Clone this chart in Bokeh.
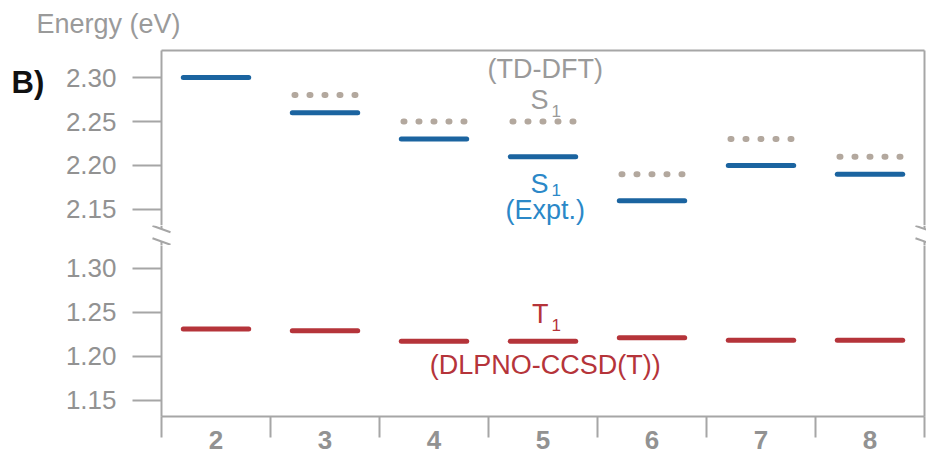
from bokeh.plotting import figure
from bokeh.layouts import column
from bokeh.models import (FixedTicker, LinearAxis, Range1d, Label, Plot,
                          ColumnDataSource, NumeralTickFormatter)
from bokeh.embed import file_html
from bokeh.resources import INLINE

# ---------------- data ----------------
compounds = [2, 3, 4, 5, 6, 7, 8]
x_labels = ["2", "3", "4", "5", "6", "7", "8"]
s1_expt = [2.30, 2.26, 2.23, 2.21, 2.16, 2.20, 2.19]
s1_tddft_compounds = [3, 4, 5, 6, 7, 8]
s1_tddft = [2.28, 2.25, 2.25, 2.19, 2.23, 2.21]
t1_dlpno = [1.231, 1.229, 1.217, 1.217, 1.221, 1.218, 1.218]
top_ticks = [2.15, 2.20, 2.25, 2.30]
bottom_ticks = [1.15, 1.20, 1.25, 1.30]

# ---------------- style ----------------
FONT = "Liberation Sans"
AXIS_COL = "#a6a6a6"
TICK_TXT = "#929292"
BLUE = "#1b64a0"
BLUE_TXT = "#2b88c8"
TAUPE = "#b3a89e"
RED = "#b5343a"
GRAY_TXT = "#9a9a9a"
ANN_SIZE = "27px"
SUB_SIZE = "17px"
HALF_BAR = 0.30
HALF_DOT = 0.28

W = 926
FRAME_L = 161
FRAME_R = 924

x_range = Range1d(compounds[0] - 0.5, compounds[-1] + 0.5)
PX_PER_X = (FRAME_R - FRAME_L) / (x_range.end - x_range.start)
top_range = Range1d(2.1318, 2.3307)
bot_range = Range1d(1.1315, 1.3258)


def bars(p, xs, ys, color, width, half, dash="solid"):
    src = ColumnDataSource(dict(x0=[x - half for x in xs], x1=[x + half for x in xs], y=ys))
    p.segment(x0="x0", y0="y", x1="x1", y1="y", source=src, line_color=color,
              line_width=width, line_cap="round", line_dash=dash)


def blank_axis():
    return LinearAxis(ticker=FixedTicker(ticks=[]), major_tick_out=0, major_tick_in=0,
                      minor_tick_out=0, minor_tick_in=0, major_label_standoff=0,
                      axis_line_color=AXIS_COL, axis_line_width=2,
                      major_label_text_font_size="0px")


def left_axis(ticks):
    return LinearAxis(ticker=FixedTicker(ticks=ticks, minor_ticks=[]),
                      formatter=NumeralTickFormatter(format="0.00"),
                      major_tick_out=29, major_tick_in=0,
                      minor_tick_out=0, minor_tick_in=0,
                      major_tick_line_color=AXIS_COL, major_tick_line_width=2,
                      axis_line_color=AXIS_COL, axis_line_width=2,
                      major_label_standoff=16,
                      major_label_text_font=FONT, major_label_text_font_size="26px",
                      major_label_text_color=TICK_TXT)


def text(p, x, y, s, color, size=ANN_SIZE, align="center", baseline="middle"):
    p.add_layout(Label(x=x, y=y, text=s, text_font=FONT, text_font_size=size,
                       text_color=color, text_align=align, text_baseline=baseline))


def sub_text(p, x, y_main, y_sub, main, sub, color):
    text(p, x, y_main, main, color, align="right")
    text(p, x + 0.028, y_sub, sub, color, size=SUB_SIZE, align="left")


# ---------------- top panel ----------------
H1 = 225
top = figure(width=W, height=H1, x_range=x_range, y_range=top_range,
             output_backend="svg", toolbar_location=None,
             x_axis_type=None, y_axis_type=None,
             min_border_left=FRAME_L, min_border_right=W - FRAME_R,
             min_border_top=50, min_border_bottom=0)
top.outline_line_color = None
top.add_layout(left_axis(top_ticks), "left")
top.add_layout(blank_axis(), "right")
top.add_layout(blank_axis(), "above")

bars(top, s1_tddft_compounds, s1_tddft, TAUPE, 6, HALF_DOT, dash="1 14")
bars(top, compounds, s1_expt, BLUE, 5, HALF_BAR)

top.add_layout(Label(x=36, y=8, x_units="canvas", y_units="canvas", text="Energy (eV)",
                     text_font=FONT, text_font_size="27px", text_color=GRAY_TXT,
                     text_baseline="top", text_align="left"), "above")
top.add_layout(Label(x=11, y=82, x_units="canvas", y_units="canvas", text="B)",
                     text_font=FONT, text_font_size="31px", text_font_style="bold",
                     text_color="#111111", text_baseline="middle", text_align="left"), "left")

text(top, 5.02, 2.3097, "(TD-DFT)", GRAY_TXT)
sub_text(top, 5.05, 2.2739, 2.2619, "S", "1", GRAY_TXT)
sub_text(top, 5.05, 2.1790, 2.1722, "S", "1", BLUE_TXT)
text(top, 5.02, 2.1495, "(Expt.)", BLUE_TXT)

# ---------------- axis-break strip (pixel rows, y down) ----------------
HM = 20
HAS_FRAME_ALIGN = "frame_align" in Plot.properties()
if HAS_FRAME_ALIGN:
    mid_x = Range1d(x_range.start - FRAME_L / PX_PER_X, x_range.end + (W - FRAME_R) / PX_PER_X)
    mid_borders = dict(min_border_left=0, min_border_right=0)
else:
    mid_x = x_range
    mid_borders = dict(min_border_left=FRAME_L, min_border_right=W - FRAME_R)
mid = figure(width=W, height=HM, x_range=mid_x, y_range=Range1d(HM, 0),
             output_backend="svg", toolbar_location=None,
             x_axis_type=None, y_axis_type=None,
             min_border_top=0, min_border_bottom=0, **mid_borders)
if HAS_FRAME_ALIGN:
    mid.frame_align = False
mid.outline_line_color = None
edges = [x_range.start, x_range.end]
SL_DX = 9 / PX_PER_X
brk = ColumnDataSource(dict(
    # short axis stubs ending at each break mark
    sx0=edges + edges, sy0=[0, 0, 16, 16], sx1=edges + edges, sy1=[3.5, 3.5, HM, HM],
    # slanted break marks
    bx0=[e - SL_DX for e in edges] * 2, by0=[0.2, 0.2, 12.7, 12.7],
    bx1=[e + SL_DX for e in edges] * 2, by1=[6.8, 6.8, 19.3, 19.3]))
mid.segment(x0="sx0", y0="sy0", x1="sx1", y1="sy1", source=brk,
            line_color=AXIS_COL, line_width=2)
mid.segment(x0="bx0", y0="by0", x1="bx1", y1="by1", source=brk,
            line_color=AXIS_COL, line_width=2)

# ---------------- bottom panel ----------------
H2 = 459 - H1 - HM
bot = figure(width=W, height=H2, x_range=x_range, y_range=bot_range,
             output_backend="svg", toolbar_location=None,
             x_axis_type=None, y_axis_type=None,
             min_border_left=FRAME_L, min_border_right=W - FRAME_R,
             min_border_top=0, min_border_bottom=43)
bot.outline_line_color = None
bot.add_layout(left_axis(bottom_ticks), "left")
bot.add_layout(blank_axis(), "right")
boundaries = [c - 0.5 for c in compounds] + [compounds[-1] + 0.5]
xax = LinearAxis(ticker=FixedTicker(ticks=compounds, minor_ticks=boundaries),
                 major_label_overrides={c: l for c, l in zip(compounds, x_labels)},
                 major_tick_out=0, major_tick_in=0,
                 minor_tick_out=21, minor_tick_in=0,
                 minor_tick_line_color=AXIS_COL, minor_tick_line_width=2,
                 axis_line_color=AXIS_COL, axis_line_width=2,
                 major_label_standoff=-7,
                 major_label_text_font=FONT, major_label_text_font_size="26px",
                 major_label_text_font_style="bold", major_label_text_color=TICK_TXT)
bot.add_layout(xax, "below")

bars(bot, compounds, t1_dlpno, RED, 5, HALF_BAR)

sub_text(bot, 5.05, 1.2485, 1.2349, "T", "1", RED)
text(bot, 5.02, 1.190, "(DLPNO-CCSD(T))", RED)

layout = column(top, mid, bot, spacing=0)
open("out.html", "w").write(file_html(layout, INLINE))
